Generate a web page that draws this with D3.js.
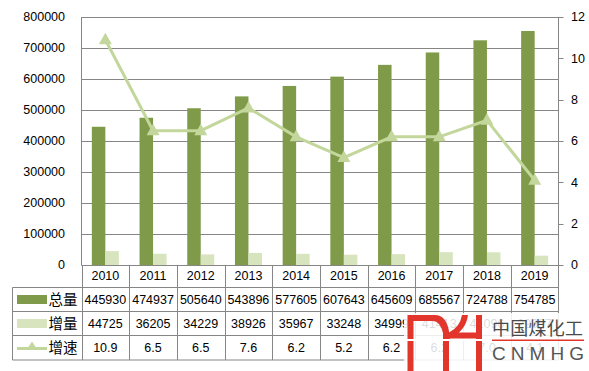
<!DOCTYPE html>
<html><head><meta charset="utf-8">
<script src="https://cdn.jsdelivr.net/npm/d3@7"></script>
<style>body{margin:0;background:#fff}svg{display:block}</style>
</head><body><svg id="c" width="589" height="371"></svg>
<script>
const years = ["2010","2011","2012","2013","2014","2015","2016","2017","2018","2019"];
const total = [445930,474937,505640,543896,577605,607643,645609,685567,724788,754785];
const increment = [44725,36205,34229,38926,35967,33248,34999,41413,41096,29997];
const rate = [10.9,6.5,6.5,7.6,6.2,5.2,6.2,6.2,7.0,4.1];
const rateLabels = ["10.9","6.5","6.5","7.6","6.2","5.2","6.2","6.2","7.0","4.1"];
const leftTicks = [0,100000,200000,300000,400000,500000,600000,700000,800000];
const rightTicks = [0,2,4,6,8,10,12];
const seriesNames = ["总量","增量","增速"];

const svg = d3.select("#c");
const L = 81.5, R = 558.5, T = 17, B = 265;
const grid = "#868686";
const cDark = "#7F9A48", cLight = "#D7E4BD", cLine = "#C3D69B";
const numFont = "'Liberation Sans', Arial, sans-serif";
const cjkFont = "'Noto Sans CJK SC', sans-serif";

const x = d3.scaleBand().domain(years).range([L, R]);
const yL = d3.scaleLinear().domain([0, 800000]).range([B, T]);
const yR = d3.scaleLinear().domain([0, 12]).range([B, T]);

// gridlines
svg.append("g").selectAll("line").data(leftTicks).join("line")
  .attr("x1", L).attr("x2", R)
  .attr("y1", d => Math.round(yL(d)) + 0.5).attr("y2", d => Math.round(yL(d)) + 0.5)
  .attr("stroke", grid).attr("stroke-width", 1);

// left axis labels
svg.append("g").selectAll("text").data(leftTicks).join("text")
  .attr("x", 65).attr("y", d => yL(d)).attr("dy", "0.35em")
  .attr("text-anchor", "end").attr("font-family", numFont).attr("font-size", 12.5)
  .text(d => d);

// axis lines
svg.append("line").attr("x1", L).attr("x2", L).attr("y1", T).attr("y2", B).attr("stroke", grid);
svg.append("line").attr("x1", R).attr("x2", R).attr("y1", T).attr("y2", 360).attr("stroke", grid);

// right axis ticks + labels
svg.append("g").selectAll("line").data(rightTicks).join("line")
  .attr("x1", R).attr("x2", R + 5)
  .attr("y1", d => Math.round(yR(d)) + 0.5).attr("y2", d => Math.round(yR(d)) + 0.5)
  .attr("stroke", grid);
svg.append("g").selectAll("text").data(rightTicks).join("text")
  .attr("x", 571).attr("y", d => yR(d)).attr("dy", "0.35em")
  .attr("font-family", numFont).attr("font-size", 12.5)
  .text(d => d);

// bars
const bw = 13.5;
svg.append("g").selectAll("rect").data(total).join("rect")
  .attr("x", (d, i) => x(years[i]) + x.bandwidth() / 2 - bw)
  .attr("width", bw).attr("y", d => yL(d)).attr("height", d => B - yL(d))
  .attr("fill", cDark);
svg.append("g").selectAll("rect").data(increment).join("rect")
  .attr("x", (d, i) => x(years[i]) + x.bandwidth() / 2)
  .attr("width", bw).attr("y", d => yL(d)).attr("height", d => B - yL(d))
  .attr("fill", cLight);

// line
const cx = i => x(years[i]) + x.bandwidth() / 2;
svg.append("path").datum(rate)
  .attr("d", d3.line().x((d, i) => cx(i)).y(d => yR(d)))
  .attr("fill", "none").attr("stroke", cLine).attr("stroke-width", 3);
const tri = "M0,-7L6.5,4.5L-6.5,4.5Z";
svg.append("g").selectAll("path").data(rate).join("path")
  .attr("transform", (d, i) => `translate(${cx(i)},${yR(d)})`)
  .attr("d", tri).attr("fill", cLine);

// bottom axis line
svg.append("line").attr("x1", L).attr("x2", R).attr("y1", B + 0.5).attr("y2", B + 0.5).attr("stroke", grid);

// data table
const tl = 12.5;
svg.append("g").selectAll("line").data(years).join("line")
  .attr("x1", d => Math.round(x(d)) + 0.5).attr("x2", d => Math.round(x(d)) + 0.5)
  .attr("y1", B).attr("y2", 360).attr("stroke", grid);
[287.5, 311.5, 335.5, 360].forEach(yy => {
  svg.append("line").attr("x1", tl).attr("x2", R).attr("y1", yy).attr("y2", yy).attr("stroke", grid);
});
svg.append("line").attr("x1", tl).attr("x2", tl).attr("y1", 287.5).attr("y2", 360).attr("stroke", grid);

svg.append("g").selectAll("text").data(years).join("text")
  .attr("x", d => x(d) + x.bandwidth() / 2).attr("y", 276).attr("dy", "0.35em")
  .attr("text-anchor", "middle").attr("font-family", numFont).attr("font-size", 12.5)
  .text(d => d);

const rows = [total.map(String), increment.map(String), rateLabels];
const rowMid = [299.5, 323.5, 347.5];
rows.forEach((r, ri) => {
  svg.append("g").selectAll("text").data(r).join("text")
    .attr("x", (d, i) => cx(i)).attr("y", rowMid[ri]).attr("dy", "0.35em")
    .attr("text-anchor", "middle").attr("font-family", numFont).attr("font-size", 12.5)
    .text(d => d);
});

// legend keys
svg.append("rect").attr("x", 17).attr("y", 295).attr("width", 30).attr("height", 9).attr("fill", cDark);
svg.append("rect").attr("x", 17).attr("y", 319).attr("width", 30).attr("height", 9).attr("fill", cLight);
svg.append("line").attr("x1", 17).attr("x2", 47).attr("y1", 348.5).attr("y2", 348.5).attr("stroke", cLine).attr("stroke-width", 3);
svg.append("path").attr("transform", "translate(32,346.5)").attr("d", "M0,-5L5.5,3.5L-5.5,3.5Z").attr("fill", cLine);
svg.append("g").selectAll("text").data(seriesNames).join("text")
  .attr("x", 48.5).attr("y", (d, i) => rowMid[i]).attr("dy", "0.36em")
  .attr("font-family", cjkFont).attr("font-size", 14.5)
  .text(d => d);

// watermark
svg.append("rect").attr("x", 404).attr("y", 313).attr("width", 185).attr("height", 58)
  .attr("fill", "#fff").attr("opacity", 0.86);
const red = "#E2352C";
const wm = svg.append("g").attr("fill", red);
wm.append("path").attr("d", "M407.5,371 V315 H435 Q446,315 449,331 V371 H443 V333 Q440,321 433,321 H413.5 V371 Z");
wm.append("path").attr("d", "M462,315 H468 Q466,331 449,339 V332.5 Q460,327 462,315 Z");
wm.append("rect").attr("x", 449).attr("y", 332.5).attr("width", 27).attr("height", 6);
wm.append("rect").attr("x", 476).attr("y", 315).attr("width", 6).attr("height", 56);
svg.append("rect").attr("x", 406).attr("y", 339).attr("width", 78).attr("height", 2).attr("fill", "#fff");
svg.append("text").attr("x", 492).attr("y", 334.5).attr("font-family", cjkFont).attr("font-size", 18)
  .attr("fill", "#4a4a4a").attr("textLength", 91).attr("lengthAdjust", "spacing").text("中国煤化工");
svg.append("rect").attr("x", 492).attr("y", 339.5).attr("width", 92).attr("height", 1.5).attr("fill", red);
svg.append("text").attr("x", 492).attr("y", 360).attr("font-family", "'Liberation Sans', Arial, sans-serif").attr("font-size", 19)
  .attr("fill", "#555").attr("textLength", 92).attr("lengthAdjust", "spacing").text("CNMHG");
</script></body></html>
